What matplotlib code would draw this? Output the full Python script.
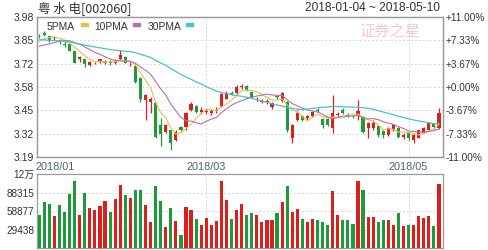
import matplotlib
matplotlib.use('Agg')
import matplotlib.pyplot as plt
import numpy as np

plt.rcParams['font.family'] = ['Liberation Sans', 'Noto Sans CJK SC', 'DejaVu Sans']

# closes of the 29 sessions before the window (needed for the moving averages)
prior_closes = [3.90, 3.92, 3.91, 3.89, 3.88, 3.90, 3.93, 3.92, 3.90, 3.88,
                3.87, 3.89, 3.88, 3.86, 3.85, 3.83, 3.82, 3.80, 3.79, 3.78,
                3.80, 3.79, 3.78, 3.77, 3.79, 3.80, 3.82, 3.85, 3.87]

opens = [3.875, 3.890, 3.870, 3.860, 3.845, 3.830, 3.825, 3.785, 3.740, 3.740,
         3.710, 3.718, 3.725, 3.722, 3.724, 3.722, 3.740, 3.755, 3.718, 3.705,
         3.635, 3.510, 3.500, 3.495, 3.370, 3.330, 3.340, 3.285, 3.360, 3.360,
         3.455, 3.480, 3.445, 3.442, 3.440, 3.452, 3.480, 3.520, 3.552, 3.550,
         3.585, 3.590, 3.555, 3.512, 3.502, 3.498, 3.470, 3.532, 3.505, 3.500,
         3.300, 3.400, 3.420, 3.408, 3.420, 3.458, 3.405, 3.405, 3.355, 3.428,
         3.458, 3.428, 3.424, 3.420, 3.415, 3.355, 3.355, 3.365, 3.335, 3.315,
         3.340, 3.355, 3.305, 3.325, 3.285, 3.300, 3.330, 3.340, 3.380, 3.355]
closes = [3.870, 3.880, 3.845, 3.865, 3.840, 3.822, 3.790, 3.722, 3.755, 3.712,
          3.725, 3.722, 3.740, 3.726, 3.720, 3.728, 3.768, 3.722, 3.722, 3.612,
          3.515, 3.540, 3.520, 3.305, 3.320, 3.370, 3.270, 3.330, 3.345, 3.440,
          3.490, 3.445, 3.458, 3.448, 3.448, 3.458, 3.545, 3.550, 3.548, 3.585,
          3.590, 3.568, 3.530, 3.518, 3.508, 3.508, 3.495, 3.528, 3.550, 3.340,
          3.370, 3.440, 3.400, 3.420, 3.445, 3.452, 3.370, 3.372, 3.440, 3.433,
          3.440, 3.424, 3.420, 3.448, 3.330, 3.380, 3.382, 3.315, 3.315, 3.355,
          3.370, 3.302, 3.315, 3.300, 3.315, 3.340, 3.355, 3.380, 3.358, 3.440]
highs = [3.885, 3.900, 3.875, 3.870, 3.855, 3.845, 3.830, 3.790, 3.760, 3.745,
         3.730, 3.728, 3.745, 3.735, 3.735, 3.745, 3.795, 3.760, 3.728, 3.710,
         3.640, 3.545, 3.530, 3.500, 3.410, 3.375, 3.345, 3.340, 3.365, 3.445,
         3.500, 3.485, 3.470, 3.465, 3.460, 3.470, 3.550, 3.560, 3.560, 3.595,
         3.600, 3.595, 3.560, 3.530, 3.520, 3.515, 3.500, 3.540, 3.555, 3.505,
         3.375, 3.455, 3.425, 3.425, 3.450, 3.465, 3.410, 3.410, 3.540, 3.445,
         3.465, 3.440, 3.430, 3.510, 3.420, 3.390, 3.400, 3.370, 3.340, 3.360,
         3.375, 3.360, 3.325, 3.330, 3.325, 3.345, 3.360, 3.385, 3.385, 3.468]
lows = [3.860, 3.870, 3.840, 3.850, 3.825, 3.810, 3.785, 3.720, 3.725, 3.700,
        3.705, 3.712, 3.720, 3.715, 3.710, 3.715, 3.735, 3.718, 3.705, 3.605,
        3.500, 3.400, 3.440, 3.300, 3.255, 3.325, 3.230, 3.280, 3.335, 3.340,
        3.450, 3.440, 3.435, 3.432, 3.430, 3.440, 3.475, 3.515, 3.540, 3.545,
        3.575, 3.560, 3.525, 3.505, 3.495, 3.490, 3.460, 3.520, 3.500, 3.330,
        3.270, 3.395, 3.395, 3.400, 3.415, 3.445, 3.355, 3.365, 3.325, 3.420,
        3.435, 3.415, 3.410, 3.400, 3.325, 3.300, 3.345, 3.305, 3.300, 3.310,
        3.335, 3.295, 3.290, 3.285, 3.268, 3.295, 3.325, 3.335, 3.350, 3.350]
volumes = [52300, 72700, 70700, 50700, 68000, 57000, 86000, 107000, 53000, 88000,
           64000, 61000, 67500, 74000, 57000, 78000, 100000, 85000, 79600, 91500,
           91500, 68000, 41000, 99000, 74000, 33000, 64000, 43000, 20000, 66000,
           61000, 45500, 36600, 48000, 36600, 43000, 107000, 76000, 45500, 60000,
           70700, 53000, 55000, 52000, 41000, 44000, 44000, 55000, 72700, 99000,
           57600, 62800, 45500, 41000, 45500, 44000, 41000, 36000, 91000, 52000,
           44000, 44000, 37700, 107000, 92600, 49000, 49000, 41000, 44000, 44000,
           36000, 56000, 35000, 36000, 36000, 50700, 47000, 50700, 35000, 102000]

base_close = 3.585
price_labels = ['3.98', '3.85', '3.72', '3.58', '3.45', '3.32', '3.19']
pct_labels = ['+11.00%', '+7.33%', '+3.67%', '+0.00%', '-3.67%', '-7.33%', '-11.00%']
vol_ticks = [29438, 58877, 88315, 117754]
vol_labels = ['29438', '58877', '88315', '12万']
date_idx = [0, 33, 73]
date_labels = ['2018/01', '2018/03', '2018/05']

RED = '#d9201c'
GREEN = '#1e9a3d'
GRID = '#d8d8d8'
EDGE = '#9a9a9a'
TXT = '#333333'

W, H = 488, 250


def fx(px):
    return px / W


def fy(py):
    return 1 - py / H


n = len(closes)
x = np.arange(n)
full = np.array(prior_closes + closes)


def moving_avg(k):
    return np.array([full[i - k + 1:i + 1].mean() for i in range(len(prior_closes), len(full))])


up = np.array(closes) >= np.array(opens)
colors = [RED if u else GREEN for u in up]

fig = plt.figure(figsize=(W / 100, H / 100), dpi=100)
ax = fig.add_axes([fx(37), fy(157), fx(443) - fx(37), (157 - 17) / H])
axv = fig.add_axes([fx(37), fy(248), fx(443) - fx(37), (248 - 174) / H])

levels = [base_close * (1 + k * 0.11 / 3) for k in range(3, -4, -1)]
xlim = (-0.45, n - 0.2)

# price panel
for lv in levels[1:-1]:
    ax.axhline(lv, color=GRID, lw=0.7, ls=(0, (2, 2)), zorder=0)
for di in date_idx[1:]:
    ax.axvline(di, color=GRID, lw=0.7, ls=(0, (2, 2)), zorder=0)
    axv.axvline(di, color=GRID, lw=0.7, ls=(0, (2, 2)), zorder=0)

ax.text(0.87, 0.895, '证券之星', transform=ax.transAxes, family=['Noto Sans CJK SC'],
        fontsize=11, color='#f3b4bd', alpha=0.7, ha='center', va='center', zorder=0)

ax.vlines(x, lows, highs, colors=colors, lw=0.9, zorder=2)
bottoms = np.minimum(opens, closes)
heights = np.maximum(np.abs(np.array(closes) - np.array(opens)), 0.004)
ax.bar(x, heights, bottom=bottoms, width=0.62, color=colors, linewidth=0, zorder=3)

ax.plot(x, moving_avg(5), color='#e2c255', lw=0.8, zorder=4)
ax.plot(x, moving_avg(10), color='#b572a8', lw=0.8, zorder=4)
ax.plot(x, moving_avg(30), color='#45c3d3', lw=0.9, zorder=4)

ax.set_xlim(*xlim)
ax.set_ylim(levels[-1], levels[0])
ax.set_yticks(levels)
ax.set_yticklabels(price_labels, fontsize=7.5, color=TXT)
ax.set_xticks([])
ax.tick_params(axis='y', length=0, pad=2)

ax2 = ax.twinx()
ax2.set_ylim(levels[-1], levels[0])
ax2.set_yticks(levels)
ax2.set_yticklabels(pct_labels, fontsize=7.2, color=TXT)
ax2.tick_params(axis='y', length=0, pad=2)

for a in (ax, ax2, axv):
    for s in a.spines.values():
        s.set_color(EDGE)
        s.set_linewidth(0.9)

# legend
ax.text(0.024, 0.93, '5PMA', transform=ax.transAxes, fontsize=7.4, color=TXT, va='center')
ax.text(0.14, 0.93, '10PMA', transform=ax.transAxes, fontsize=7.4, color=TXT, va='center')
ax.text(0.272, 0.93, '30PMA', transform=ax.transAxes, fontsize=7.4, color=TXT, va='center')
for x0, c in [(81, '#e2c255'), (133, '#b572a8'), (186, '#45c3d3')]:
    fig.patches.append(plt.Rectangle((fx(x0), fy(25.5)), 6.5 / W, 2.5 / H,
                                     transform=fig.transFigure, color=c, figure=fig))

# volume panel
vmax = vol_ticks[-1]
for vt in vol_ticks[:-1]:
    axv.axhline(vt, color=GRID, lw=0.7, ls=(0, (2, 2)), zorder=0)
axv.bar(x, volumes, width=0.62, color=colors, linewidth=0, zorder=3)
axv.set_xlim(*xlim)
axv.set_ylim(0, vmax)
axv.set_yticks(vol_ticks)
axv.set_yticklabels(vol_labels, fontsize=7.2, color=TXT)
axv.set_xticks([])
axv.tick_params(axis='y', length=0, pad=2)
for lab in axv.get_yticklabels():
    lab.set_family(['Liberation Sans', 'Noto Sans CJK SC'])

# date labels between the panels
for di, lab in zip(date_idx, date_labels):
    xd = ax.transData.transform((di, 0))[0] / (W)
    fig.text(fx(36) if di == 0 else xd, fy(166.5), lab, fontsize=7.8, color='#4a6282',
             ha='left' if di == 0 else 'center', va='center')

fig.text(fx(38), fy(8), '粤 水 电[002060]', fontsize=9, color=TXT, va='center',
         family=['Noto Sans CJK SC', 'DejaVu Sans'])
fig.text(fx(440), fy(8), '2018-01-04 ~ 2018-05-10', fontsize=8.6, color=TXT,
         ha='right', va='center')

fig.savefig('out.png', dpi=100)
